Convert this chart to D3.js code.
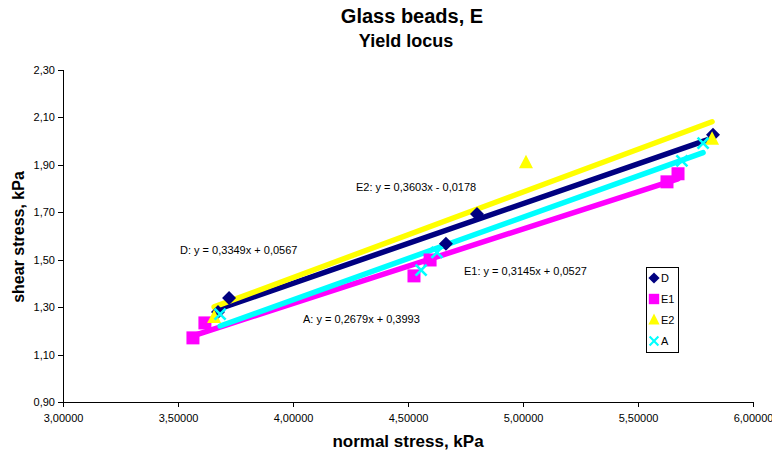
<!DOCTYPE html>
<html>
<head>
<meta charset="utf-8">
<script src="https://cdn.jsdelivr.net/npm/d3@7/dist/d3.min.js"></script>
<style>
  html, body { margin: 0; padding: 0; background: #fff; }
  svg { display: block; font-family: "Liberation Sans", Arial, sans-serif; }
</style>
</head>
<body>
<svg id="chart" width="772" height="459"></svg>
<script>
// Yield locus measurements: normal stress (kPa) vs shear stress (kPa)
const seriesNames = ["D", "E1", "E2", "A"];
const seriesColors = ["#000080", "#FF00FF", "#FFFF00", "#00FFFF"];
const seriesShapes = ["diamond", "square", "triangle", "cross"];

const dNormal  = [3.674, 3.722, 4.665, 4.800, 5.826];
const dShear   = [1.279, 1.338, 1.566, 1.692, 2.025];
const e1Normal = [3.565, 3.617, 4.526, 4.596, 5.626, 5.674];
const e1Shear  = [1.170, 1.233, 1.431, 1.498, 1.827, 1.861];
const e2Normal = [3.657, 5.013, 5.822];
const e2Shear  = [1.256, 1.907, 2.006];
const aNormal  = [3.683, 4.557, 4.626, 5.691, 5.783];
const aShear   = [1.270, 1.455, 1.530, 1.915, 1.990];

// Trendline equation labels as printed on the chart
const eqTexts = [
  "D: y = 0,3349x + 0,0567",
  "E1: y = 0,3145x + 0,0527",
  "E2: y = 0,3603x - 0,0178",
  "A: y = 0,2679x + 0,3993"
];
const eqAnchors = [[180, 254], [464, 275], [356, 191], [303, 323]];

const xTicks = [3.0, 3.5, 4.0, 4.5, 5.0, 5.5, 6.0];
const yTicks = [0.9, 1.1, 1.3, 1.5, 1.7, 1.9, 2.1, 2.3];

const xs = [dNormal, e1Normal, e2Normal, aNormal];
const ys = [dShear, e1Shear, e2Shear, aShear];

const svg = d3.select("#chart");
const x = d3.scaleLinear().domain([3, 6]).range([63, 753]);
const y = d3.scaleLinear().domain([0.9, 2.3]).range([402, 69.5]);
const comma = f => v => d3.format(f)(v).replace(".", ",");

// Titles
svg.append("text").attr("x", 412).attr("y", 23).attr("text-anchor", "middle")
  .attr("font-size", 20).attr("font-weight", "bold").text("Glass beads, E");
svg.append("text").attr("x", 406).attr("y", 47).attr("text-anchor", "middle")
  .attr("font-size", 18).attr("font-weight", "bold").text("Yield locus");

// Axes
const xAxis = svg.append("g").attr("transform", "translate(0,402)")
  .call(d3.axisBottom(x).tickValues(xTicks).tickFormat(comma(".5f"))
    .tickSizeInner(5).tickSizeOuter(0).tickPadding(7));
const yAxis = svg.append("g").attr("transform", "translate(63,0)")
  .call(d3.axisLeft(y).tickValues(yTicks).tickFormat(comma(".2f"))
    .tickSizeInner(5).tickSizeOuter(0).tickPadding(3));
[xAxis, yAxis].forEach(g => {
  g.selectAll("text").attr("font-size", 11).attr("fill", "#000")
    .style("font-family", "'Liberation Sans', Arial, sans-serif");
  g.selectAll("path, line").attr("stroke", "#000").attr("shape-rendering", "crispEdges");
});

svg.append("text").attr("x", 408).attr("y", 447).attr("text-anchor", "middle")
  .attr("font-size", 17).attr("font-weight", "bold").text("normal stress, kPa");
svg.append("text").attr("transform", "translate(24,237) rotate(-90)")
  .attr("text-anchor", "middle").attr("font-size", 16).attr("font-weight", "bold")
  .text("shear stress, kPa");

// Least-squares linear trendline over each series' own x range
function fit(px, py) {
  const mx = d3.mean(px), my = d3.mean(py);
  let sxy = 0, sxx = 0;
  px.forEach((v, i) => { sxy += (v - mx) * (py[i] - my); sxx += (v - mx) ** 2; });
  const m = sxy / sxx;
  return { m, b: my - m * mx, x0: d3.min(px), x1: d3.max(px) };
}

const plot = svg.append("g");
const markerLayer = svg.append("g");

function drawMarker(g, shape, color, cx, cy, scale) {
  const s = scale || 1;
  const p = g.append("path").attr("transform", `translate(${cx},${cy}) scale(${s})`);
  if (shape === "diamond") {
    p.attr("d", "M0,-7L7,0L0,7L-7,0Z").attr("fill", color);
  } else if (shape === "square") {
    p.attr("d", "M-6.5,-6.5H6.5V6.5H-6.5Z").attr("fill", color);
  } else if (shape === "triangle") {
    p.attr("d", "M0,-8L7,5.5H-7Z").attr("fill", color);
  } else {
    p.attr("d", "M-5.5,-5.5L5.5,5.5M5.5,-5.5L-5.5,5.5").attr("fill", "none")
      .attr("stroke", color).attr("stroke-width", 2.6);
  }
}

// Markers
xs.forEach((px, si) => {
  px.forEach((v, i) => drawMarker(markerLayer, seriesShapes[si], seriesColors[si], x(v), y(ys[si][i])));
});

// Trendlines
xs.forEach((px, si) => {
  const t = fit(px, ys[si]);
  plot.append("line")
    .attr("x1", x(t.x0)).attr("y1", y(t.m * t.x0 + t.b))
    .attr("x2", x(t.x1)).attr("y2", y(t.m * t.x1 + t.b))
    .attr("stroke", seriesColors[si]).attr("stroke-width", 5.5)
    .attr("stroke-linecap", "round");
});

// Equation labels
eqTexts.forEach((t, i) => {
  svg.append("text").attr("x", eqAnchors[i][0]).attr("y", eqAnchors[i][1])
    .attr("font-size", 11).attr("fill", "#000").text(t);
});

// Legend
const lg = svg.append("g").attr("transform", "translate(646,267)");
lg.append("rect").attr("width", 32).attr("height", 85)
  .attr("fill", "#fff").attr("stroke", "#000").attr("shape-rendering", "crispEdges");
seriesNames.forEach((n, i) => {
  const cy = 11 + i * 21;
  drawMarker(lg, seriesShapes[i], seriesColors[i], 8, cy, 0.8);
  lg.append("text").attr("x", 15).attr("y", cy + 4).attr("font-size", 11).text(n);
});
</script>
</body>
</html>
